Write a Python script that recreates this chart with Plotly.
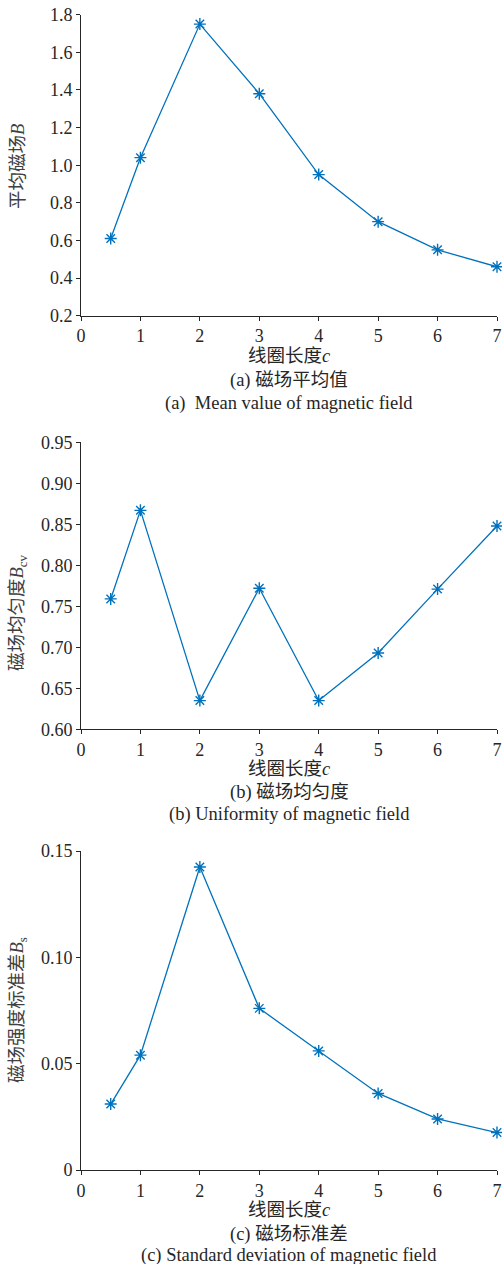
import plotly.graph_objects as go

# Coil length (shared x values)
coil_length = [0.5, 1, 2, 3, 4, 5, 6, 7]

# (a) mean magnetic field
mean_field = [0.61, 1.04, 1.75, 1.38, 0.95, 0.70, 0.55, 0.46]
# (b) field uniformity
uniformity = [0.759, 0.867, 0.635, 0.772, 0.635, 0.693, 0.771, 0.848]
# (c) standard deviation of field strength
std_field = [0.031, 0.054, 0.1425, 0.076, 0.056, 0.036, 0.024, 0.0176]

x_ticks = [0, 1, 2, 3, 4, 5, 6, 7]
y1_ticks = [0.2, 0.4, 0.6, 0.8, 1.0, 1.2, 1.4, 1.6, 1.8]
y1_text = ["0.2", "0.4", "0.6", "0.8", "1.0", "1.2", "1.4", "1.6", "1.8"]
y2_ticks = [0.60, 0.65, 0.70, 0.75, 0.80, 0.85, 0.90, 0.95]
y2_text = ["0.60", "0.65", "0.70", "0.75", "0.80", "0.85", "0.90", "0.95"]
y3_ticks = [0, 0.05, 0.10, 0.15]
y3_text = ["0", "0.05", "0.10", "0.15"]

W, H = 502, 1264
LINE_BLUE = "#0072BD"
AXIS_COLOR = "#262626"
SERIF = "Liberation Serif, Noto Sans CJK SC"


def fy(px):
    """Pixel row -> paper fraction."""
    return 1 - px / H


def fx(px):
    return px / W


x_dom = [fx(81), fx(497)]
panels = [
    (mean_field, [0.2, 1.8], y1_ticks, y1_text, (14.7, 315.7)),
    (uniformity, [0.6, 0.95], y2_ticks, y2_text, (442.3, 729.3)),
    (std_field, [0, 0.15], y3_ticks, y3_text, (851, 1170)),
]

fig = go.Figure()
layout = dict(
    template="none",
    width=W, height=H,
    margin=dict(l=0, r=0, t=0, b=0, pad=0),
    paper_bgcolor="white", plot_bgcolor="white",
    showlegend=False,
    font=dict(family=SERIF, color=AXIS_COLOR),
)

for i, (vals, yr, tv, tt, (top, bot)) in enumerate(panels, start=1):
    sx = "" if i == 1 else str(i)
    fig.add_trace(go.Scatter(
        x=coil_length, y=vals, mode="lines+markers",
        xaxis="x" + sx, yaxis="y" + sx,
        line=dict(color=LINE_BLUE, width=1.3),
        marker=dict(symbol="asterisk-open", size=10,
                    color=LINE_BLUE, line=dict(color=LINE_BLUE, width=1.4)),
        cliponaxis=False,
    ))
    common = dict(showline=True, linecolor=AXIS_COLOR, linewidth=1,
                  ticks="outside", ticklen=4, tickcolor=AXIS_COLOR,
                  showgrid=False, zeroline=False, mirror=False,
                  automargin=False,
                  tickfont=dict(family=SERIF, size=18, color=AXIS_COLOR))
    layout["xaxis" + sx] = dict(common, domain=x_dom, range=[0, 7],
                                tickvals=x_ticks, anchor="y" + sx)
    layout["yaxis" + sx] = dict(common, domain=[fy(bot), fy(top)], range=yr,
                                tickvals=tv, ticktext=tt, anchor="x" + sx)

fig.update_layout(**layout)

cx = fx(289)


def note(text, x, y, size=18.5, angle=0, color=AXIS_COLOR):
    fig.add_annotation(text=text, x=x, y=fy(y), xref="paper", yref="paper",
                       showarrow=False, xanchor="center", yanchor="middle",
                       textangle=angle, borderpad=0,
                       font=dict(family=SERIF, size=size, color=color))


# x-axis titles and captions
for y_t, y_c1, y_c2, c1, c2 in [
    (356, 380, 404, "(a) 磁场平均值", "(a)  Mean value of magnetic field"),
    (769, 792, 814, "(b) 磁场均匀度", "(b) Uniformity of magnetic field"),
    (1210, 1234, 1255, "(c) 磁场标准差", "(c) Standard deviation of magnetic field"),
]:
    note("线圈长度<i>c</i>", cx, y_t)
    note(c1, cx, y_c1)
    note(c2, cx, y_c2)

# y-axis titles
note("平均磁场<i>B</i>", fx(18), 167, angle=-90, color="#404040")
note("磁场均匀度<i>B</i><sub>cv</sub>", fx(18), 613, angle=-90, color="#404040")
note("磁场强度标准差<i>B</i><sub>s</sub>", fx(18), 1010, angle=-90, color="#404040")

fig.write_html("out.html")
